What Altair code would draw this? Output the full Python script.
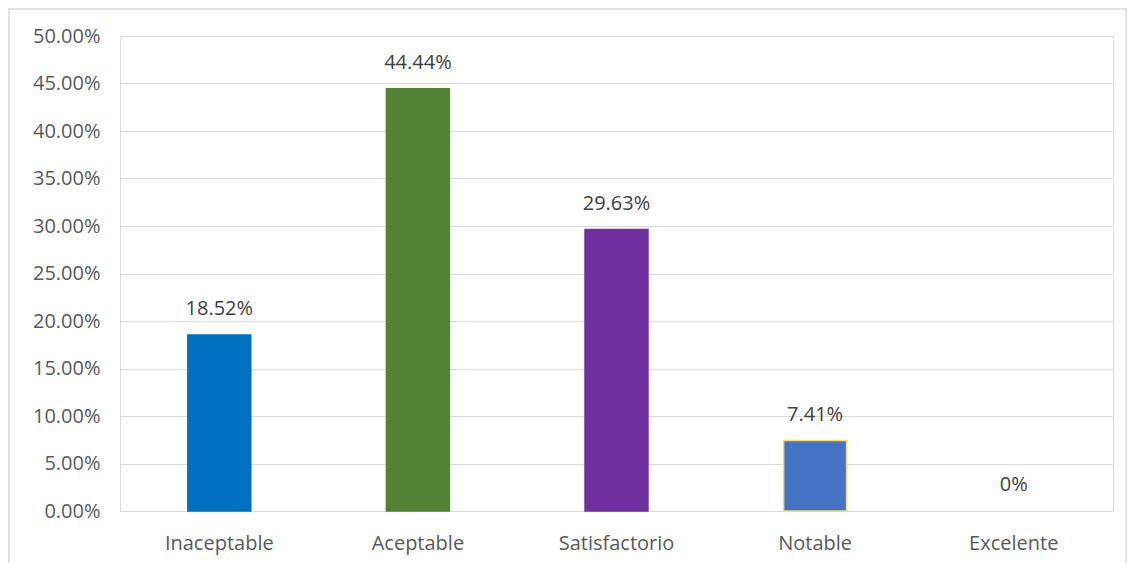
import altair as alt
import pandas as pd

categories = ["Inaceptable", "Aceptable", "Satisfactorio", "Notable", "Excelente"]
values = [0.1852, 0.4444, 0.2963, 0.0741, 0.0]
labels = ["18.52%", "44.44%", "29.63%", "7.41%", "0%"]
colors = ["#0070C0", "#548235", "#7030A0", "#4472C4", "transparent"]
strokes = ["#0070C0", "#548235", "#7030A0", "#FFD966", "transparent"]

df = pd.DataFrame({"cat": categories, "val": values, "label": labels,
                   "color": colors, "stroke": strokes})

FONT = "Open Sans"
W, H = 993, 475

xenc = alt.X("cat:N", sort=categories,
             scale=alt.Scale(paddingInner=0.683, paddingOuter=0.3415),
             axis=alt.Axis(title=None, labelAngle=0, domain=False, ticks=False,
                           labelPadding=22, labelFontSize=20, labelColor="#595959",
                           labelFont=FONT))
yenc = alt.Y("val:Q", scale=alt.Scale(domain=[0, 0.5], nice=False),
             axis=alt.Axis(title=None, format=".2%", values=[i * 0.05 for i in range(11)],
                           domain=False, ticks=False, labelPadding=20,
                           labelFontSize=20, labelColor="#595959", labelFont=FONT,
                           gridColor="#D9D9D9", gridWidth=1))

base = alt.Chart(df)

bars = base.mark_bar(strokeWidth=1.5).encode(
    x=xenc, y=yenc,
    color=alt.Color("color:N", scale=None),
    stroke=alt.Stroke("stroke:N", scale=None),
)

text = base.mark_text(baseline="bottom", dy=-16, fontSize=20, color="#404040", font=FONT).encode(
    x=alt.X("cat:N", sort=categories), y="val:Q", text="label:N"
)

frame = alt.Chart(pd.DataFrame({"a": [0]})).mark_rect(
    fill=None, stroke="#D9D9D9", strokeWidth=1.5
).encode(
    x=alt.value(-111), x2=alt.value(W + 13), y=alt.value(-27), y2=alt.value(H + 70)
)

chart = alt.layer(frame, bars, text).properties(
    width=W, height=H,
    autosize=alt.AutoSizeParams(type="none"),
    padding={"left": 112, "top": 28, "right": 14, "bottom": 52},
).configure_view(stroke=None).configure(background="white")

chart.save("out.html", embed_options={"renderer": "svg", "actions": False})
